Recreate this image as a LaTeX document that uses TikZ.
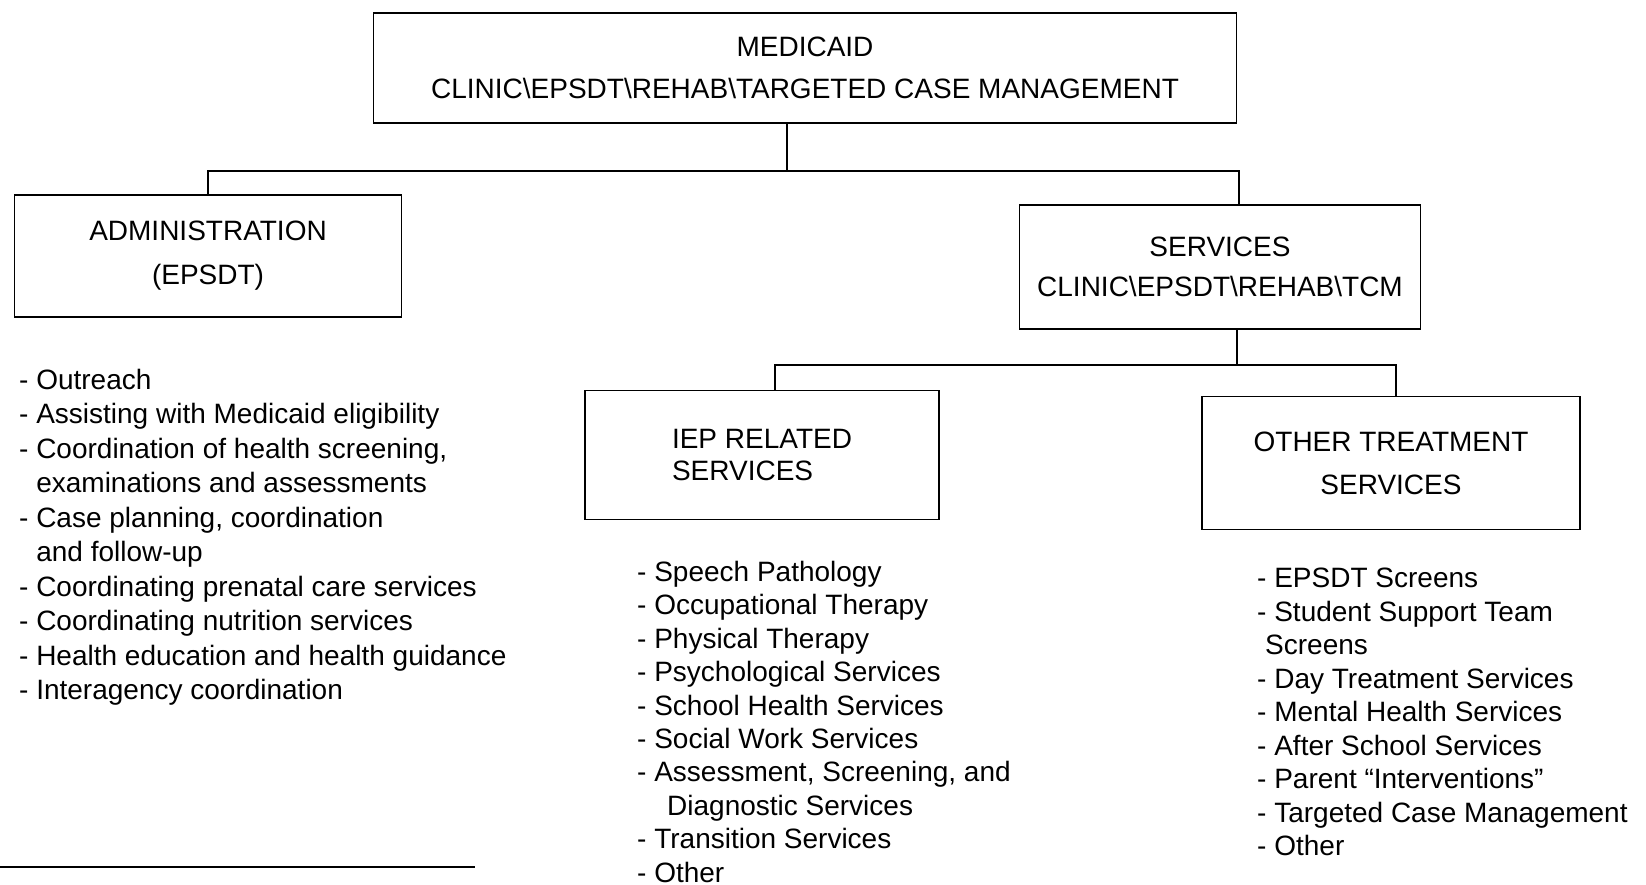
\documentclass[tikz,border=0pt]{standalone}
\usepackage{fontspec}
\setmainfont{Liberation Sans}
\usetikzlibrary{positioning}

\begin{document}
\begin{tikzpicture}[
    x=1pt, y=-1pt,
    unit/.style={draw, line width=1.4pt, align=center, inner sep=0pt},
    plist/.style={anchor=north west, inner sep=0pt, align=left, font=\fontsize{28}{34}\selectfont},
    link/.style={line width=1.4pt}
]
\useasboundingbox (0,0) rectangle (1646,885);

% top of the chart
\node[unit, minimum width=863pt, minimum height=110pt, font=\fontsize{28}{42}\selectfont] (medicaid) at (805,68)
    {MEDICAID\\CLINIC\textbackslash EPSDT\textbackslash REHAB\textbackslash TARGETED CASE MANAGEMENT};

% second level
\node[unit, minimum width=387pt, minimum height=122pt, font=\fontsize{28}{44}\selectfont] (admin) at (208,256)
    {ADMINISTRATION\\(EPSDT)};
\node[unit, minimum width=401pt, minimum height=124pt, font=\fontsize{28}{40}\selectfont] (services) at (1220,267)
    {SERVICES\\CLINIC\textbackslash EPSDT\textbackslash REHAB\textbackslash TCM};

% third level (under services)
\node[unit, align=left, minimum width=354pt, minimum height=129pt, font=\fontsize{28}{32}\selectfont] (iep) at (762,455)
    {IEP RELATED\\SERVICES};
\node[unit, minimum width=378pt, minimum height=133pt, font=\fontsize{28}{43}\selectfont] (other) at (1391,463)
    {OTHER TREATMENT\\SERVICES};

% connectors
\coordinate (topfork) at (787,171);
\coordinate (svcin) at (1239,171);
\draw[link] (medicaid.south -| topfork) -- (topfork);
\draw[link] (admin.north) |- (svcin) -- (svcin |- services.north);

\coordinate (subfork) at (1237,365);
\coordinate (iepin) at (775,365);
\coordinate (othin) at (1396,365);
\draw[link] (services.south -| subfork) -- (subfork);
\draw[link] (iepin |- iep.north) -- (iepin) -- (othin) -- (othin |- other.north);

% lists of activities
\node[plist, font=\fontsize{28}{34.5}\selectfont] (adminlist) at (19,369) {%
- Outreach\\
- Assisting with Medicaid eligibility\\
- Coordination of health screening,\\
\phantom{- }examinations and assessments\\
- Case planning, coordination\\
\phantom{- }and follow-up\\
- Coordinating prenatal care services\\
- Coordinating nutrition services\\
- Health education and health guidance\\
- Interagency coordination};

\node[plist, font=\fontsize{28}{33.4}\selectfont] (ieplist) at (637,561) {%
- Speech Pathology\\
- Occupational Therapy\\
- Physical Therapy\\
- Psychological Services\\
- School Health Services\\
- Social Work Services\\
- Assessment, Screening, and\\
\hspace{30pt}Diagnostic Services\\
- Transition Services\\
- Other};

\node[plist, font=\fontsize{28}{33.5}\selectfont] (otherlist) at (1257,568) {%
- EPSDT Screens\\
- Student Support Team\\
\hspace{8pt}Screens\\
- Day Treatment Services\\
- Mental Health Services\\
- After School Services\\
- Parent ``Interventions''\\
- Targeted Case Management\\
- Other};

% footnote rule
\coordinate (rulea) at (0,867);
\coordinate (ruleb) at (475,867);
\draw[line width=1.2pt] (rulea) -- (ruleb);

\end{tikzpicture}
\end{document}
